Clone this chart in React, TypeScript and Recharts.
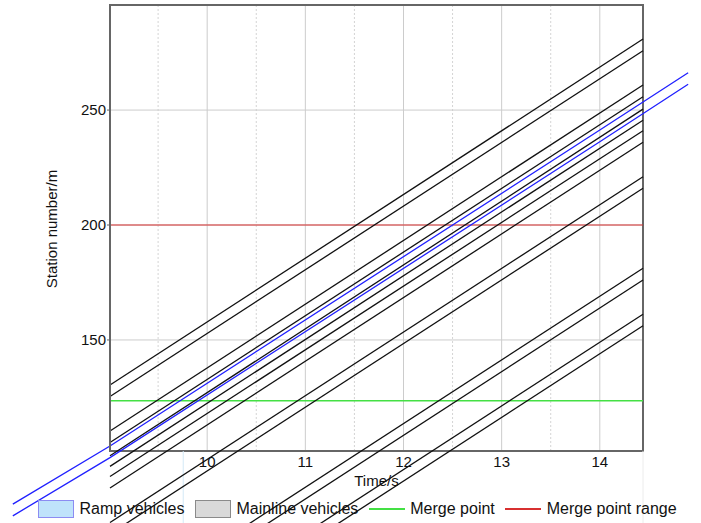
import { CartesianGrid, Line, LineChart, ReferenceArea, ReferenceLine, XAxis, YAxis } from 'recharts';

const timeDomain: [number, number] = [9.01, 14.44];
const stationDomain: [number, number] = [101.7, 295.7];
const timeTicks = [10, 11, 12, 13, 14];
const timeMinorTicks = [9.5, 10.5, 11.5, 12.5, 13.5];
const stationTicks = [150, 200, 250];
const stationMinorTicks = [125, 175, 225, 275];

// mainline vehicles: station at the left and right edge of the plot (front / rear pairs)
const mainlineStart = [130.4, 125.4, 110.4, 105.4, 99.6, 95.0, 90.6, 85.6, 70.6, 65.6, 30.8, 25.7, 10.8, 5.8];
const mainlineEnd = [280.9, 275.8, 260.9, 255.8, 250.4, 245.6, 241.0, 236.0, 221.0, 216.0, 181.2, 176.1, 161.2, 156.2];

// ramp vehicle (front / rear)
const rampTimes = [8.02, 9.01, 14.0, 14.9];
const rampFront = [78.6, 103.9, 241.3, 266.2];
const rampRear = [73.5, 98.8, 236.2, 261.2];

const mergePoint = 123.6;
const mergePointRange = 200;

const legendItems = [
  { name: 'Ramp vehicles', kind: 'box', fill: '#bfe3fb', stroke: '#8c8cf2' },
  { name: 'Mainline vehicles', kind: 'box', fill: '#d9d9d9', stroke: '#8a8a8a' },
  { name: 'Merge point', kind: 'line', fill: 'none', stroke: '#44e044' },
  { name: 'Merge point range', kind: 'line', fill: 'none', stroke: '#d83030' },
];

const mainlineSeries = mainlineStart.map((s, i) => [
  { t: timeDomain[0], s },
  { t: timeDomain[1], s: mainlineEnd[i] },
]);
const rampSeries = [rampFront, rampRear].map((vals) => vals.map((s, i) => ({ t: rampTimes[i], s })));

const font = '"Liberation Sans", Arial, sans-serif';

function YTitle(props: any) {
  const vb = props.viewBox || { y: 5, height: 446 };
  const x = 57;
  const y = vb.y + vb.height / 2 + 1;
  return (
    <text x={x} y={y} transform={`rotate(-90, ${x}, ${y})`} textAnchor="middle" fontSize={15} fill="#111">
      Station number/m
    </text>
  );
}

function XTitle(props: any) {
  const vb = props.viewBox || { x: 110, y: 451, width: 533, height: 72 };
  return (
    <text x={vb.x + vb.width / 2} y={vb.y + 35} textAnchor="middle" fontSize={15} fill="#111">
      Time/s
    </text>
  );
}

export default function App() {
  return (
    <div style={{ position: 'relative', width: 701, height: 523, fontFamily: font }}>
      <style>{'body{margin:0}.recharts-line-curve{clip-path:none !important}'}</style>
      <LineChart width={701} height={523} margin={{ top: 5, right: 58, bottom: 0, left: 0 }}>
        <XAxis
          xAxisId="main"
          type="number"
          dataKey="t"
          domain={timeDomain}
          allowDataOverflow
          ticks={timeTicks}
          tickLine={false}
          axisLine={false}
          tickSize={5}
          tickMargin={0}
          height={72}
          tick={{ fill: '#111', fontSize: 15 }}
          label={<XTitle />}
        />
        <XAxis xAxisId="minor" type="number" dataKey="t" domain={timeDomain} allowDataOverflow ticks={timeMinorTicks} hide />
        <YAxis
          yAxisId="minor"
          type="number"
          dataKey="s"
          domain={stationDomain}
          allowDataOverflow
          ticks={stationMinorTicks}
          width={10}
          tick={false}
          tickLine={false}
          axisLine={false}
        />
        <YAxis
          yAxisId="main"
          type="number"
          dataKey="s"
          domain={stationDomain}
          allowDataOverflow
          ticks={stationTicks}
          width={100}
          tickSize={3}
          tickMargin={1}
          tickLine={{ stroke: '#666' }}
          axisLine={{ stroke: '#666', strokeWidth: 2 }}
          tick={{ fill: '#111', fontSize: 15 }}
          label={<YTitle />}
        />
        <CartesianGrid xAxisId="minor" yAxisId="minor" stroke="#d4d4d4" strokeDasharray="2 2" />
        <CartesianGrid xAxisId="main" yAxisId="main" stroke="#cccccc" />
        <ReferenceLine
          xAxisId="main"
          yAxisId="main"
          segment={[{ x: 9.756, y: stationDomain[0] }, { x: 9.756, y: 70 }]}
          stroke="#d3e9f7"
          ifOverflow="visible"
        />
        <ReferenceLine
          xAxisId="main"
          yAxisId="main"
          segment={[{ x: timeDomain[1], y: stationDomain[0] }, { x: timeDomain[1], y: 70 }]}
          stroke="#ececec"
          ifOverflow="visible"
        />
        <ReferenceLine xAxisId="main" yAxisId="main" y={mergePoint} stroke="#44e044" strokeWidth={1.5} />
        <ReferenceLine xAxisId="main" yAxisId="main" y={mergePointRange} stroke="#d83030" strokeWidth={1.2} />
        <ReferenceArea
          xAxisId="main"
          yAxisId="main"
          x1={timeDomain[0]}
          x2={timeDomain[1]}
          y1={stationDomain[0]}
          y2={stationDomain[1]}
          fill="none"
          fillOpacity={0}
          stroke="#666"
          strokeWidth={2}
        />
        {mainlineSeries.map((d, i) => (
          <Line
            key={`m${i}`}
            xAxisId="main"
            yAxisId="main"
            data={d}
            dataKey="s"
            type="linear"
            stroke="#111"
            strokeWidth={1.3}
            dot={false}
            isAnimationActive={false}
          />
        ))}
        {rampSeries.map((d, i) => (
          <Line
            key={`r${i}`}
            xAxisId="main"
            yAxisId="main"
            data={d}
            dataKey="s"
            type="linear"
            stroke="#2020ff"
            strokeWidth={1.3}
            dot={false}
            isAnimationActive={false}
          />
        ))}
      </LineChart>
      <div
        style={{
          position: 'absolute',
          left: 38,
          top: 500,
          display: 'flex',
          alignItems: 'center',
          fontSize: 16,
          color: '#111',
          lineHeight: '18px',
        }}
      >
        {legendItems.map((it) => (
          <div key={it.name} style={{ display: 'flex', alignItems: 'center', marginRight: 10.5 }}>
            {it.kind === 'box' ? (
              <div style={{ width: 34, height: 16, background: it.fill, border: `1px solid ${it.stroke}` }} />
            ) : (
              <div style={{ width: 36, height: 1.5, background: it.stroke }} />
            )}
            <span style={{ marginLeft: 5.5 }}>{it.name}</span>
          </div>
        ))}
      </div>
    </div>
  );
}
